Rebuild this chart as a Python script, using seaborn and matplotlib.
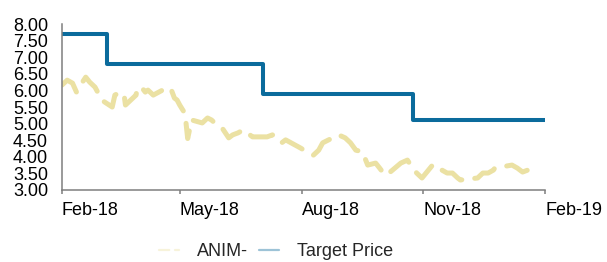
import matplotlib
matplotlib.use("Agg")
import matplotlib.pyplot as plt
import seaborn as sns
import pandas as pd

import warnings
warnings.filterwarnings("ignore")

# ANIM- share price
price_dates = [
    "2018-02-01", "2018-02-05", "2018-02-09", "2018-02-12", "2018-02-15",
    "2018-02-19", "2018-02-22", "2018-02-26", "2018-02-28", "2018-03-03",
    "2018-03-11", "2018-03-13", "2018-03-17", "2018-03-20", "2018-03-21",
    "2018-03-29", "2018-03-30", "2018-04-02", "2018-04-05", "2018-04-07",
    "2018-04-11", "2018-04-18", "2018-04-22", "2018-04-25", "2018-04-27",
    "2018-04-29", "2018-05-01", "2018-05-05", "2018-05-07", "2018-05-10",
    "2018-05-18", "2018-05-22", "2018-05-25", "2018-05-29", "2018-06-02",
    "2018-06-07", "2018-06-10", "2018-06-14", "2018-06-18", "2018-06-21",
    "2018-06-25", "2018-07-06", "2018-07-10", "2018-07-14", "2018-07-17",
    "2018-07-20", "2018-07-31", "2018-08-05", "2018-08-10", "2018-08-14",
    "2018-08-17", "2018-08-29", "2018-09-03", "2018-09-07", "2018-09-11",
    "2018-09-16", "2018-09-20", "2018-09-26", "2018-09-29", "2018-10-03",
    "2018-10-07", "2018-10-15", "2018-10-20", "2018-10-24", "2018-10-27",
    "2018-10-31", "2018-11-08", "2018-11-11", "2018-11-15", "2018-11-19",
    "2018-11-23", "2018-11-27", "2018-11-29", "2018-12-12", "2018-12-16",
    "2018-12-20", "2018-12-24", "2018-12-25", "2019-01-07", "2019-01-11",
    "2019-01-15", "2019-01-19", "2019-01-23",
]
price_values = [
    6.16, 6.31, 6.22, 5.95, 6.16,
    6.40, 6.25, 6.10, 5.95, 5.71,
    5.50, 5.86, 5.95, 5.86, 5.56,
    5.86, 6.07, 6.10, 5.95, 6.01,
    5.86, 6.01, 6.10, 5.98, 5.77,
    5.71, 5.56, 5.30, 4.55, 5.11,
    5.02, 5.17, 5.11, 4.96, 4.87,
    4.57, 4.66, 4.72, 4.81, 4.72,
    4.60, 4.60, 4.66, 4.57, 4.42,
    4.51, 4.27, 4.15, 4.05, 4.20,
    4.42, 4.66, 4.57, 4.42, 4.20,
    4.15, 3.75, 3.81, 3.66, 3.45,
    3.54, 3.81, 3.90, 3.66, 3.51,
    3.36, 3.75, 3.75, 3.60, 3.51,
    3.51, 3.36, 3.30, 3.36, 3.51,
    3.51, 3.60, 3.66, 3.75, 3.66,
    3.54, 3.60, 3.75,
]

# Target price (step changes)
target_dates = ["2018-02-01", "2018-03-07", "2018-07-03", "2018-10-24", "2019-02-01"]
target_values = [7.70, 6.80, 5.90, 5.10, 5.10]

tick_dates = ["2018-02-01", "2018-05-01", "2018-08-01", "2018-11-01", "2019-02-01"]
tick_labels = ["Feb-18", "May-18", "Aug-18", "Nov-18", "Feb-19"]

price_color = "#ebe1a3"
target_color = "#0b6b9c"
spine_color = "#7f7f7f"

sns.set_style("white")
plt.rcParams["font.family"] = ["Liberation Sans", "DejaVu Sans"]

price = pd.DataFrame({"date": pd.to_datetime(price_dates), "value": price_values})
target = pd.DataFrame({"date": pd.to_datetime(target_dates), "value": target_values})

fig = plt.figure(figsize=(6.07, 2.62), dpi=100)
ax = fig.add_axes([0.102, 0.275, 0.796, 0.633])

sns.lineplot(x="date", y="value", data=price, ax=ax, color=price_color,
             linewidth=3.6, label="ANIM-", linestyle=(0, (4.6, 2.6)),
             dash_capstyle="round", dash_joinstyle="round")
sns.lineplot(x="date", y="value", data=target, ax=ax, color=target_color,
             linewidth=2.9, label="Target Price", drawstyle="steps-post",
             solid_joinstyle="round", solid_capstyle="round")

ax.set_xlim(pd.Timestamp("2018-02-01"), pd.Timestamp("2019-02-01"))
ax.set_ylim(3.0, 8.0)
ax.set_yticks([3 + 0.5 * i for i in range(11)])
ax.yaxis.set_major_formatter(plt.FuncFormatter(lambda v, p: f"{v:.2f}"))
ax.set_xticks(pd.to_datetime(tick_dates))
ax.set_xticklabels(tick_labels, ha="left")
ax.set_xlabel("")
ax.set_ylabel("")

for side in ["top", "right"]:
    ax.spines[side].set_visible(False)
for side in ["left", "bottom"]:
    ax.spines[side].set_color(spine_color)
    ax.spines[side].set_linewidth(1.1)

ax.tick_params(axis="y", length=0, pad=10, labelsize=13, colors="black")
ax.tick_params(axis="x", length=3, width=1.1, color=spine_color, pad=5.4,
               labelsize=13, labelcolor="black", direction="out", bottom=True)

leg = ax.legend(loc="center", bbox_to_anchor=(0.455, 0.04), bbox_transform=fig.transFigure,
                ncol=2, frameon=False, fontsize=13, handlelength=1.1,
                columnspacing=0.6, handletextpad=1.0, borderpad=0, borderaxespad=0)
for h in leg.legend_handles:
    h.set_alpha(0.4)
    h.set_linewidth(1.6)

fig.savefig("out.png", dpi=100)
